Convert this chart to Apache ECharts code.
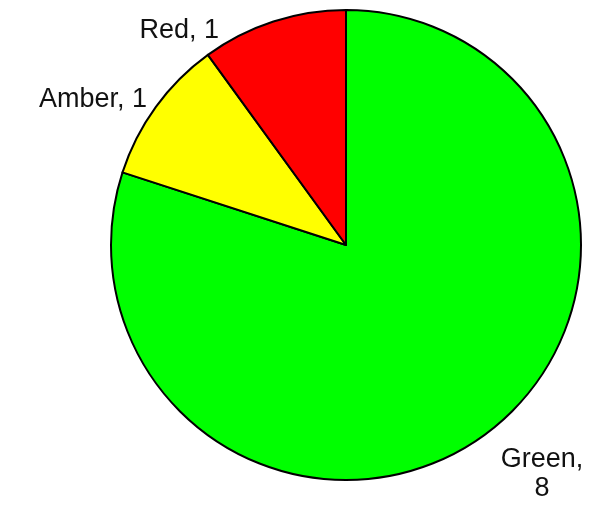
<!DOCTYPE html>
<html>
<head>
<meta charset="utf-8">
<script src="https://cdn.jsdelivr.net/npm/echarts@6/dist/echarts.min.js"></script>
<style>
  html, body { margin: 0; padding: 0; background: #ffffff; }
  #chart { width: 598px; height: 510px; }
</style>
</head>
<body>
<div id="chart"></div>
<script>
// RAG status counts, listed clockwise from twelve o'clock
const categories = ['Green', 'Amber', 'Red'];
const counts = [8, 1, 1];
const sliceColors = ['#00ff00', '#ffff00', '#ff0000'];

// Where each slice's label sits (x, y, alignment)
const labelSpots = [
  { x: 542, y: 474, align: 'center' },
  { x: 147, y: 100, align: 'right' },
  { x: 219, y: 31, align: 'right' }
];

const chart = echarts.init(document.getElementById('chart'), null, { renderer: 'canvas' });

const data = categories.map((name, i) => ({
  name: name,
  value: counts[i],
  itemStyle: { color: sliceColors[i] },
  label: { formatter: name === 'Green' ? '{b},\n{c}' : '{b}, {c}' }
}));

chart.setOption({
  animation: false,
  backgroundColor: '#ffffff',
  series: [{
    type: 'pie',
    center: [346, 245],
    radius: 235,
    startAngle: 90,
    clockwise: true,
    data: data,
    itemStyle: { borderColor: '#000000', borderWidth: 2 },
    label: {
      show: true,
      position: 'outside',
      color: '#111111',
      fontFamily: 'Liberation Sans, Arial, sans-serif',
      fontSize: 27,
      lineHeight: 29,
      overflow: 'none'
    },
    labelLine: { show: false },
    labelLayout: function (params) {
      const s = labelSpots[params.dataIndex];
      return { x: s.x, y: s.y, align: s.align, verticalAlign: 'middle' };
    },
    emphasis: { disabled: true }
  }]
});
</script>
</body>
</html>
